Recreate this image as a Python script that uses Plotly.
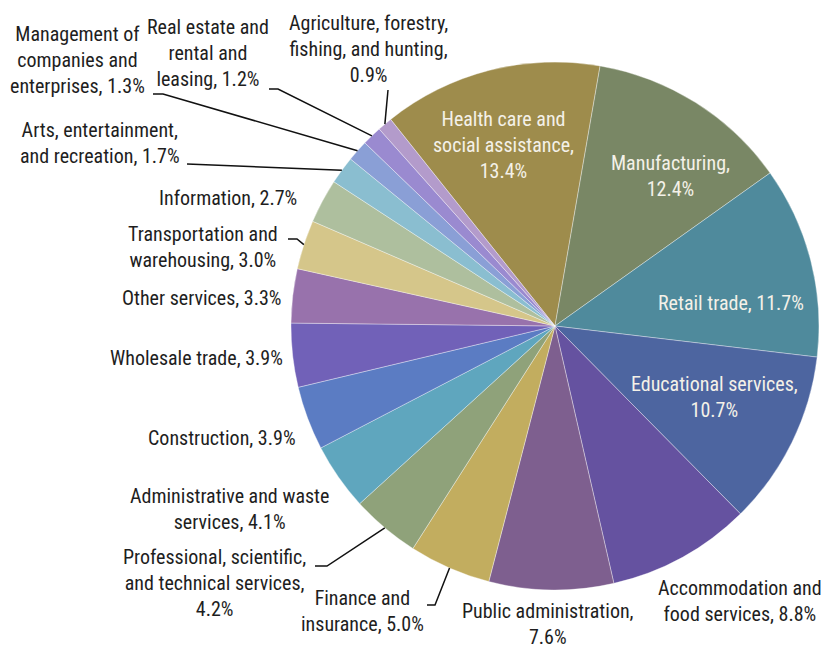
import math
import plotly.graph_objects as go

# ---------------- data ----------------
industries = [
    "Health care and social assistance", "Manufacturing", "Retail trade",
    "Educational services", "Accommodation and food services",
    "Public administration", "Finance and insurance",
    "Professional, scientific, and technical services",
    "Administrative and waste services", "Construction", "Wholesale trade",
    "Other services", "Transportation and warehousing", "Information",
    "Arts, entertainment, and recreation",
    "Management of companies and enterprises",
    "Real estate and rental and leasing",
    "Agriculture, forestry, fishing, and hunting",
]
shares = [13.4, 12.4, 11.7, 10.7, 8.8, 7.6, 5.0, 4.2, 4.1, 3.9, 3.9,
          3.3, 3.0, 2.7, 1.7, 1.3, 1.2, 0.9]
# wrapped label text ({v} = share)
label_text = [
    "Health care and<br>social assistance,<br>{v}",
    "Manufacturing,<br>{v}",
    "Retail trade, {v}",
    "Educational services,<br>{v}",
    "Accommodation and<br>food services, {v}",
    "Public administration,<br>{v}",
    "Finance and<br>insurance, {v}",
    "Professional, scientific,<br>and technical services,<br>{v}",
    "Administrative and waste<br>services, {v}",
    "Construction, {v}",
    "Wholesale trade, {v}",
    "Other services, {v}",
    "Transportation and<br>warehousing, {v}",
    "Information, {v}",
    "Arts, entertainment,<br>and recreation, {v}",
    "Management of<br>companies and<br>enterprises, {v}",
    "Real estate and<br>rental and<br>leasing, {v}",
    "Agriculture, forestry,<br>fishing, and hunting,<br>{v}",
]

# ---------------- style / layout ----------------
W, H = 825, 648
CX, CY, R = 555, 326, 264          # pie centre and radius in pixels
ROTATION = -38.5
colors = ["#9E8C4C", "#798765", "#4F8A9C", "#4D65A0", "#6552A0", "#7E5F8F",
          "#C2AD5F", "#8FA27A", "#5FA6BE", "#5B7CC3", "#7161B8", "#9872AC",
          "#D5C68A", "#AEBF9E", "#8ABED0", "#8A9FD6", "#9A8AD0", "#B39BCB"]
inside = {0, 1, 2, 3}
# label centre positions (pixels)
label_pos = [(503, 145), (670, 176), (731, 303), (714, 397), (740, 601),
             (548, 624), (362, 611), (214, 583), (229, 509), (222, 438),
             (196, 358), (202, 298), (203, 247), (228, 198), (100, 143),
             (77, 60), (208, 53), (368, 49)]
# leader lines: index -> list of pixel points from label end to elbow
leaders = {
    17: [(388, 90)],
    16: [(269, 89), (278, 89)],
    15: [(153, 94), (163, 94)],
    14: [(187, 164)],
    12: [(288, 239), (297, 239)],
    7: [(315, 566), (327, 566)],
    6: [(427, 605), (435, 605)],
}

FONT = "Roboto Condensed, Roboto, sans-serif"


def px(x, y):
    return x / W, 1 - y / H


fig = go.Figure(go.Pie(
    labels=industries, values=shares, sort=False, direction="clockwise",
    rotation=ROTATION, textinfo="none", hoverinfo="label+value",
    marker=dict(colors=colors, line=dict(color="rgba(255,255,255,0.6)", width=0.6)),
    domain=dict(x=[(CX - R) / W, (CX + R) / W],
                y=[(H - CY - R) / H, (H - CY + R) / H]),
    showlegend=False,
))

total = sum(shares)
cum = 0.0
annotations, shapes = [], []
for i, (name, v) in enumerate(zip(industries, shares)):
    mid = math.radians(ROTATION + (cum + v / 2) / total * 360)
    cum += v
    lx, ly = label_pos[i]
    x, y = px(lx, ly)
    annotations.append(dict(
        x=x, y=y, xref="paper", yref="paper", xanchor="center", yanchor="middle",
        text=label_text[i].format(v=f"{v:.1f}%"), showarrow=False, align="center",
        font=dict(family=FONT, size=20, color="#F4F1E8" if i in inside else "#1E1E1E"),
    ))
    if i in leaders:
        ex = CX + R * math.sin(mid)
        ey = CY - R * math.cos(mid)
        pts = leaders[i] + [(ex, ey)]
        path = "M " + " L ".join(f"{px(a, b)[0]:.5f},{px(a, b)[1]:.5f}" for a, b in pts)
        shapes.append(dict(type="path", xref="paper", yref="paper", path=path,
                           line=dict(color="#111111", width=1.5)))

fig.update_layout(
    width=W, height=H, margin=dict(l=0, r=0, t=0, b=0),
    paper_bgcolor="white", plot_bgcolor="white",
    annotations=annotations, shapes=shapes,
)
fig.write_html("out.html", config={"displayModeBar": False},
               post_script="document.body.style.margin='0';")
